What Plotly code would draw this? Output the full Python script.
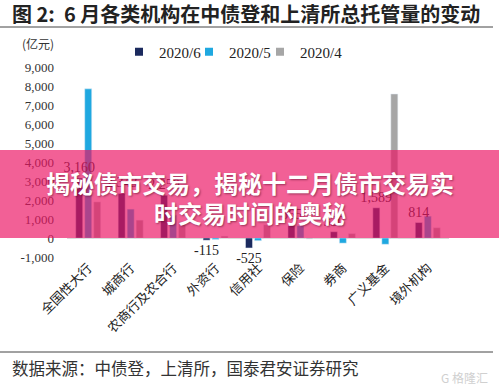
import plotly.graph_objects as go

categories = ["全国性大行", "城商行", "农商行及农合行", "外资行", "信用社", "保险", "券商", "广义基金", "境外机构"]
series_names = ["2020/6", "2020/5", "2020/4"]
jun_2020 = [3160, 2343, 2250, -115, -525, 665, 330, 1589, 814]
may_2020 = [7850, 1520, 1200, -80, -140, 650, -270, -330, 1150]
apr_2020 = [1900, 940, 850, 100, 700, -50, 230, 7580, 540]
y_ticks = [-1000, 0, 1000, 2000, 3000, 4000, 5000, 6000, 7000, 8000, 9000]

colors = ["#1B2A5E", "#1FA8E0", "#A6A6A6"]
W, H = 499, 391

def px_x(p):
    return p / W

def px_y(p):
    return 1 - p / H

serif = "Liberation Serif, Times New Roman, serif"
cjk = "Noto Sans CJK SC, sans-serif"

legend_ids = ["legend", "legend2", "legend3"]
legend_left_px = [119, 189, 260]

# bar geometry in category units (slot width and bar width)
bar_w = 0.165
slot = 0.212
offsets = [-slot - bar_w / 2, -bar_w / 2, slot - bar_w / 2]

fig = go.Figure()
series = list(zip(series_names, [jun_2020, may_2020, apr_2020], colors, offsets))
# draw the labelled series last so its labels sit on top of neighbouring bars
for name, vals, col, off in reversed(series):
    show_text = name == "2020/6"
    fig.add_trace(go.Bar(
        x=categories, y=vals, name=name, marker_color=col, showlegend=False,
        width=bar_w, offset=off,
        text=[f"{v:,}" for v in vals] if show_text else None,
        textposition="outside" if show_text else None,
        constraintext="none", cliponaxis=False,
        textfont=dict(family=serif, size=14, color="#222222"),
    ))
for (name, vals, col, off), lid in zip(series, legend_ids):
    fig.add_trace(go.Scatter(
        x=[None], y=[None], mode="markers", name=name, legend=lid,
        marker=dict(symbol="square", size=8, color=col),
    ))

legend_style = dict(orientation="h", xanchor="left", yanchor="middle", y=px_y(52),
                    font=dict(family=serif, size=15, color="#222222"), itemwidth=30,
                    bgcolor="rgba(0,0,0,0)")
layout_legends = {}
for lid, lx in zip(legend_ids, legend_left_px):
    layout_legends[lid] = dict(legend_style, x=px_x(lx))

fig.update_layout(
    width=W, height=H,
    margin=dict(l=0, r=0, t=0, b=0, autoexpand=False),
    paper_bgcolor="white", plot_bgcolor="white",
    barmode="overlay",
    showlegend=True,
    xaxis=dict(domain=[px_x(67), px_x(449)], showgrid=False, showline=False, ticks="",
               tickangle=-45, tickfont=dict(family=cjk, size=13, color="#222222"),
               zeroline=False, range=[-0.5, len(categories) - 0.5]),
    yaxis=dict(domain=[px_y(257), px_y(67)], range=[-1000, 9000], showgrid=False,
               tickvals=y_ticks, ticktext=[f"{v:,}" for v in y_ticks],
               tickfont=dict(family=serif, size=13, color="#333333"),
               ticks="", showline=False, zeroline=True, zerolinecolor="#D9D9D9",
               zerolinewidth=1, ticklabelstandoff=12),
    **layout_legends,
)

# Title, rules, unit, source
fig.add_annotation(text="<b>图 2:  6 月各类机构在中债登和上清所总托管量的变动</b>",
                   x=px_x(10), y=px_y(13), xref="paper", yref="paper", xanchor="left",
                   yanchor="middle", showarrow=False,
                   font=dict(family=cjk, size=20, color="#222222"))
fig.add_shape(type="line", xref="paper", yref="paper", x0=0, x1=px_x(493),
              y0=px_y(27), y1=px_y(27), line=dict(color="#444444", width=1))
fig.add_shape(type="line", xref="paper", yref="paper", x0=0, x1=px_x(493),
              y0=px_y(352), y1=px_y(352), line=dict(color="#444444", width=1))
fig.add_annotation(text="(亿元)", x=px_x(20), y=px_y(44), xref="paper", yref="paper",
                   xanchor="left", yanchor="middle", showarrow=False,
                   font=dict(family=cjk, size=12, color="#333333"))
fig.add_annotation(text="数据来源：中债登，上清所，国泰君安证券研究", x=px_x(10), y=px_y(368),
                   xref="paper", yref="paper", xanchor="left", yanchor="middle",
                   showarrow=False, font=dict(family=cjk, size=16.5, color="#333333"))
fig.add_annotation(text="G 格隆汇", x=px_x(490), y=px_y(377), xref="paper", yref="paper",
                   xanchor="right", yanchor="middle", showarrow=False,
                   font=dict(family=cjk, size=12, color="#D0D0D0"))

# Pink overlay banner
fig.add_shape(type="rect", xref="paper", yref="paper", x0=0, x1=1,
              y0=px_y(238), y1=px_y(150), layer="above",
              line=dict(width=0), fillcolor="rgba(236,20,100,0.68)")
fig.add_annotation(text="<b>揭秘债市交易，揭秘十二月债市交易实</b>", x=px_x(250), y=px_y(182),
                   xref="paper", yref="paper", showarrow=False,
                   font=dict(family=cjk, size=24, color="white",
                             shadow="1px 1px 2px rgba(80,0,30,0.5)"))
fig.add_annotation(text="<b>时交易时间的奥秘</b>", x=px_x(250), y=px_y(212),
                   xref="paper", yref="paper", showarrow=False,
                   font=dict(family=cjk, size=24, color="white",
                             shadow="1px 1px 2px rgba(80,0,30,0.5)"))

fig.write_html("out.html", config={"displayModeBar": False},
               post_script="document.body.style.margin='0px';")
